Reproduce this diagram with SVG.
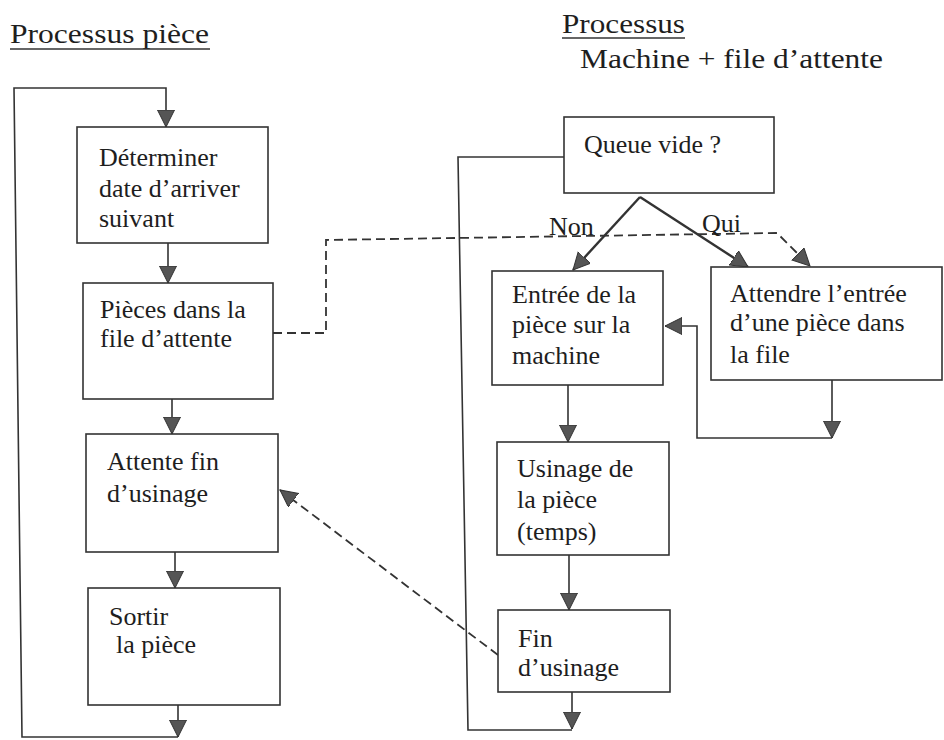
<svg xmlns="http://www.w3.org/2000/svg" width="944" height="740" viewBox="0 0 944 740">
  <style>
    .box { fill: #ffffff; stroke: #333333; stroke-width: 1.6; }
    .lbl { font-family: "Liberation Serif", "Times New Roman", serif; font-size: 26px; fill: #1e1e1e; }
    .title { font-family: "Liberation Serif", "Times New Roman", serif; font-size: 28px; fill: #1e1e1e; }
    .uline { stroke: #333333; stroke-width: 1.6; }
    .wire { fill: none; stroke: #333333; stroke-width: 1.6; }
    .bold { fill: none; stroke: #333333; stroke-width: 2.4; }
    .dash { fill: none; stroke: #333333; stroke-width: 1.8; stroke-dasharray: 9 5; }
  </style>
  <defs>
    <marker id="arr" markerUnits="userSpaceOnUse" markerWidth="18" markerHeight="18" refX="17" refY="8.5" orient="auto">
      <path d="M0,0 L17,8.5 L0,17 Z" fill="#555555" stroke="#333333" stroke-width="1"/>
    </marker>
  </defs>
  <rect width="944" height="740" fill="#ffffff"/>

  <!-- titles -->
  <g id="title-left">
    <text class="title" x="10" y="43" textLength="199" lengthAdjust="spacingAndGlyphs">Processus pièce</text>
    <line class="uline" x1="10" y1="49" x2="210" y2="49"/>
  </g>
  <g id="title-right">
    <text class="title" x="562" y="33" textLength="123" lengthAdjust="spacingAndGlyphs">Processus</text>
    <line class="uline" x1="562" y1="38" x2="685" y2="38"/>
    <text class="title" x="580" y="68" textLength="303" lengthAdjust="spacingAndGlyphs">Machine + file d’attente</text>
  </g>

  <!-- connectors -->
  <g id="connectors">
    <!-- part process -->
    <path class="wire" d="M178,705 L178,737" marker-end="url(#arr)"/>
    <path class="wire" d="M178,737 L22,737 L14,88 L166,88 L166,127" marker-end="url(#arr)"/>
    <path class="wire" d="M168,243 L168,283" marker-end="url(#arr)"/>
    <path class="wire" d="M172,399 L172,434" marker-end="url(#arr)"/>
    <path class="wire" d="M175,552 L175,588" marker-end="url(#arr)"/>
    <!-- machine process -->
    <path class="wire" d="M564,157 L458,157 L468,730 L572,730"/>
    <path class="bold" d="M640,197 L573,270" marker-end="url(#arr)"/>
    <path class="bold" d="M640,197 L748,267" marker-end="url(#arr)"/>
    <path class="wire" d="M568,385 L568,442" marker-end="url(#arr)"/>
    <path class="wire" d="M569,555 L569,610" marker-end="url(#arr)"/>
    <path class="wire" d="M572,692 L572,729" marker-end="url(#arr)"/>
    <path class="wire" d="M832,380 L832,438" marker-end="url(#arr)"/>
    <path class="wire" d="M832,438 L697,438 L697,326 L665,326" marker-end="url(#arr)"/>
    <!-- synchronisation links -->
    <path class="dash" d="M273,333 L326,333 L326,240 L777,233 L810,266" marker-end="url(#arr)"/>
    <path class="dash" d="M498,655 L280,490" marker-end="url(#arr)"/>
  </g>

  <!-- branch labels -->
  <g id="branch-labels">
    <text class="lbl" x="549" y="235">Non</text>
    <text class="lbl" x="702" y="232">Qui</text>
  </g>

  <!-- part process nodes -->
  <g id="determiner">
    <rect class="box" x="77" y="127" width="191" height="116"/>
    <text class="lbl" x="99" y="166">Déterminer</text>
    <text class="lbl" x="99" y="197">date d’arriver</text>
    <text class="lbl" x="99" y="227">suivant</text>
  </g>
  <g id="pieces-file">
    <rect class="box" x="83" y="283" width="190" height="116"/>
    <text class="lbl" x="100" y="318">Pièces dans la</text>
    <text class="lbl" x="100" y="347">file d’attente</text>
  </g>
  <g id="attente-fin">
    <rect class="box" x="86" y="434" width="192" height="118"/>
    <text class="lbl" x="107" y="470">Attente fin</text>
    <text class="lbl" x="107" y="502">d’usinage</text>
  </g>
  <g id="sortir">
    <rect class="box" x="88" y="588" width="192" height="117"/>
    <text class="lbl" x="109" y="625">Sortir</text>
    <text class="lbl" x="116" y="653">la pièce</text>
  </g>

  <!-- machine process nodes -->
  <g id="queue-vide">
    <rect class="box" x="564" y="117" width="210" height="76"/>
    <text class="lbl" x="584" y="153">Queue vide ?</text>
  </g>
  <g id="entree">
    <rect class="box" x="492" y="271" width="171" height="114"/>
    <text class="lbl" x="512" y="303">Entrée de la</text>
    <text class="lbl" x="512" y="333">pièce sur la</text>
    <text class="lbl" x="512" y="364">machine</text>
  </g>
  <g id="attendre">
    <rect class="box" x="711" y="267" width="231" height="113"/>
    <text class="lbl" x="730" y="302">Attendre l’entrée</text>
    <text class="lbl" x="730" y="331">d’une pièce dans</text>
    <text class="lbl" x="730" y="363">la file</text>
  </g>
  <g id="usinage">
    <rect class="box" x="497" y="442" width="172" height="113"/>
    <text class="lbl" x="517" y="477">Usinage de</text>
    <text class="lbl" x="517" y="508">la pièce</text>
    <text class="lbl" x="517" y="540">(temps)</text>
  </g>
  <g id="fin-usinage">
    <rect class="box" x="498" y="610" width="172" height="82"/>
    <text class="lbl" x="518" y="647">Fin</text>
    <text class="lbl" x="518" y="676">d’usinage</text>
  </g>
</svg>
